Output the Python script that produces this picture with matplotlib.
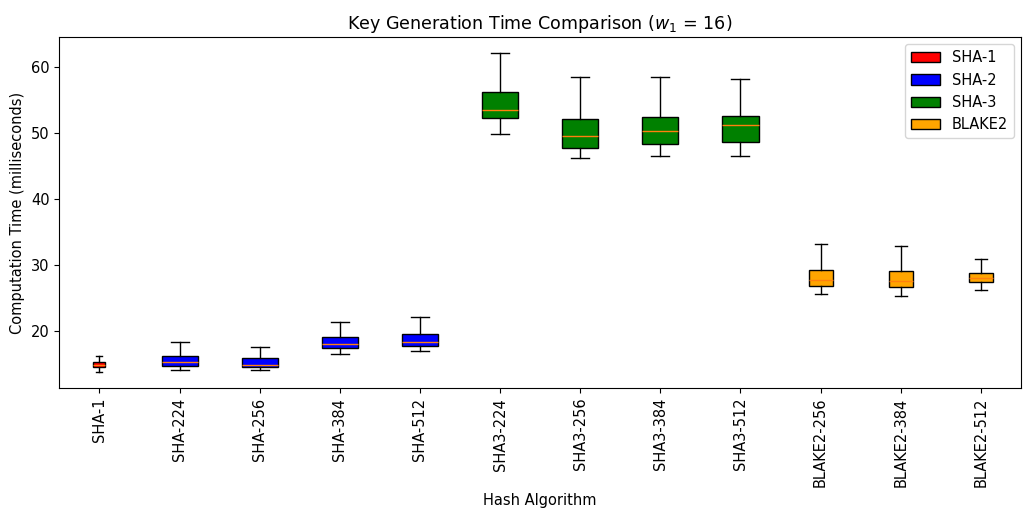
import matplotlib
matplotlib.use("Agg")
import matplotlib.pyplot as plt
from matplotlib.patches import Patch

plt.rcParams["font.size"] = 10.5

# algorithms grouped by family
families = ["SHA-1", "SHA-2", "SHA-3", "BLAKE2"]
family_colors = ["red", "blue", "green", "orange"]
family_algos = [
    ["SHA-1"],
    ["SHA-224", "SHA-256", "SHA-384", "SHA-512"],
    ["SHA3-224", "SHA3-256", "SHA3-384", "SHA3-512"],
    ["BLAKE2-256", "BLAKE2-384", "BLAKE2-512"],
]

# box statistics (ms)
whislo = [13.8, 14.1, 14.2, 16.6, 17.0, 49.9, 46.2, 46.5, 46.5, 25.7, 25.3, 26.3]
q1 = [14.55, 14.7, 14.6, 17.4, 17.8, 52.2, 47.8, 48.3, 48.6, 26.8, 26.7, 27.4]
med = [14.85, 15.3, 14.85, 18.0, 18.4, 53.5, 49.6, 50.3, 51.2, 27.8, 27.6, 28.0]
q3 = [15.3, 16.2, 15.9, 19.1, 19.6, 56.2, 52.1, 52.4, 52.5, 29.3, 29.1, 28.8]
whishi = [16.2, 18.3, 17.6, 21.4, 22.1, 62.1, 58.5, 58.5, 58.2, 33.2, 32.9, 30.9]

fig, ax = plt.subplots(figsize=(10.24, 5.08), dpi=100)

i = 0
for fam, color, algos in zip(families, family_colors, family_algos):
    stats = []
    positions = []
    for name in algos:
        stats.append(dict(label=name, whislo=whislo[i], q1=q1[i], med=med[i],
                          q3=q3[i], whishi=whishi[i], fliers=[]))
        positions.append(i + 1)
        i += 1
    bp = ax.bxp(stats, positions=positions, patch_artist=True, showfliers=False)
    for box in bp["boxes"]:
        box.set_facecolor(color)
        box.set_edgecolor("black")

handles = [Patch(facecolor=c, edgecolor="black", label=f) for f, c in zip(families, family_colors)]
ax.legend(handles=handles, loc="upper right")

ax.set_title("Key Generation Time Comparison ($w_1$ = 16)", fontsize=12.6)
ax.set_xlabel("Hash Algorithm")
ax.set_ylabel("Computation Time (milliseconds)")
ax.tick_params(axis="x", rotation=90)

fig.subplots_adjust(left=0.058, right=0.997, top=0.927, bottom=0.236)
plt.savefig("out.png")
